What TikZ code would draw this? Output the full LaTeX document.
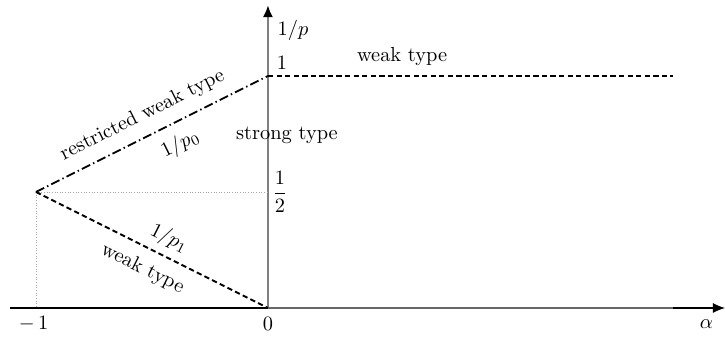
\documentclass[tikz,border=0pt]{standalone}
\usepackage{amsmath}
\usepackage{amssymb}
\usetikzlibrary{arrows.meta}

\tikzset{
  axisarrow/.style={-{Latex[length=6pt,width=5pt,color=black]}},
  weakline/.style={line width=0.9pt,dash pattern=on 2.6pt off 1.6pt},
  rwline/.style={line width=0.9pt,dash pattern=on 4.5pt off 1.6pt on 0.7pt off 1.6pt},
  guide/.style={gray!70,densely dotted,line width=0.3pt}
}

\begin{document}
\begin{tikzpicture}[x=4cm,y=4cm]
  \useasboundingbox (-1.155,-0.125) rectangle (1.970,1.3276);
  \coordinate (O) at (0,0);
  \coordinate (A) at (-1,0.5);
  \coordinate (B) at (0,1);
  \coordinate (H) at (0,0.5);
  \coordinate (M) at (-1,0);
  \coordinate (xs) at (-1.112,0);
  \coordinate (xe) at (1.97,0);
  \coordinate (ye) at (0,1.306);
  \coordinate (we) at (1.746,1);
  \coordinate (ge) at (1.746,0);
  % axes
  \draw[axisarrow,line width=0.5pt] (xs) -- (xe);
  \draw[gray,line width=1.1pt,axisarrow] (O) -- (ye);
  \draw[gray!80!black,line width=1.3pt] (O) -- (ge);
  % guides to (-1,1/2)
  \draw[guide] (A) -- (H);
  \draw[guide] (A) -- (M);
  % boundary lines
  \draw[rwline] (A) -- node[pos=0.5,above,sloped,yshift=2pt] {restricted weak type}
                       node[pos=0.58,below,sloped,yshift=-2pt] {$1/p_0$} (B);
  \draw[weakline] (A) -- node[pos=0.54,above,sloped] {$1/p_1$}
                         node[pos=0.5,below,sloped,yshift=-2pt] {weak type} (O);
  \draw[weakline] (B) -- (we);
  % labels
  \node (lp) at (0.108,1.198) {$1/p$};
  \node (l1) at (0.06,1.056) {$1$};
  \node (lw) at (0.578,1.082) {weak type};
  \node (ls) at (0.082,0.746) {strong type};
  \node[right,inner sep=2pt] (lh) at (H) {$\dfrac{1}{2}$};
  \node (lm) at (-1.01,-0.07) {$-\,1$};
  \node (l0) at (0,-0.07) {$0$};
  \node (la) at (1.89,-0.07) {$\alpha$};
\end{tikzpicture}
\end{document}
